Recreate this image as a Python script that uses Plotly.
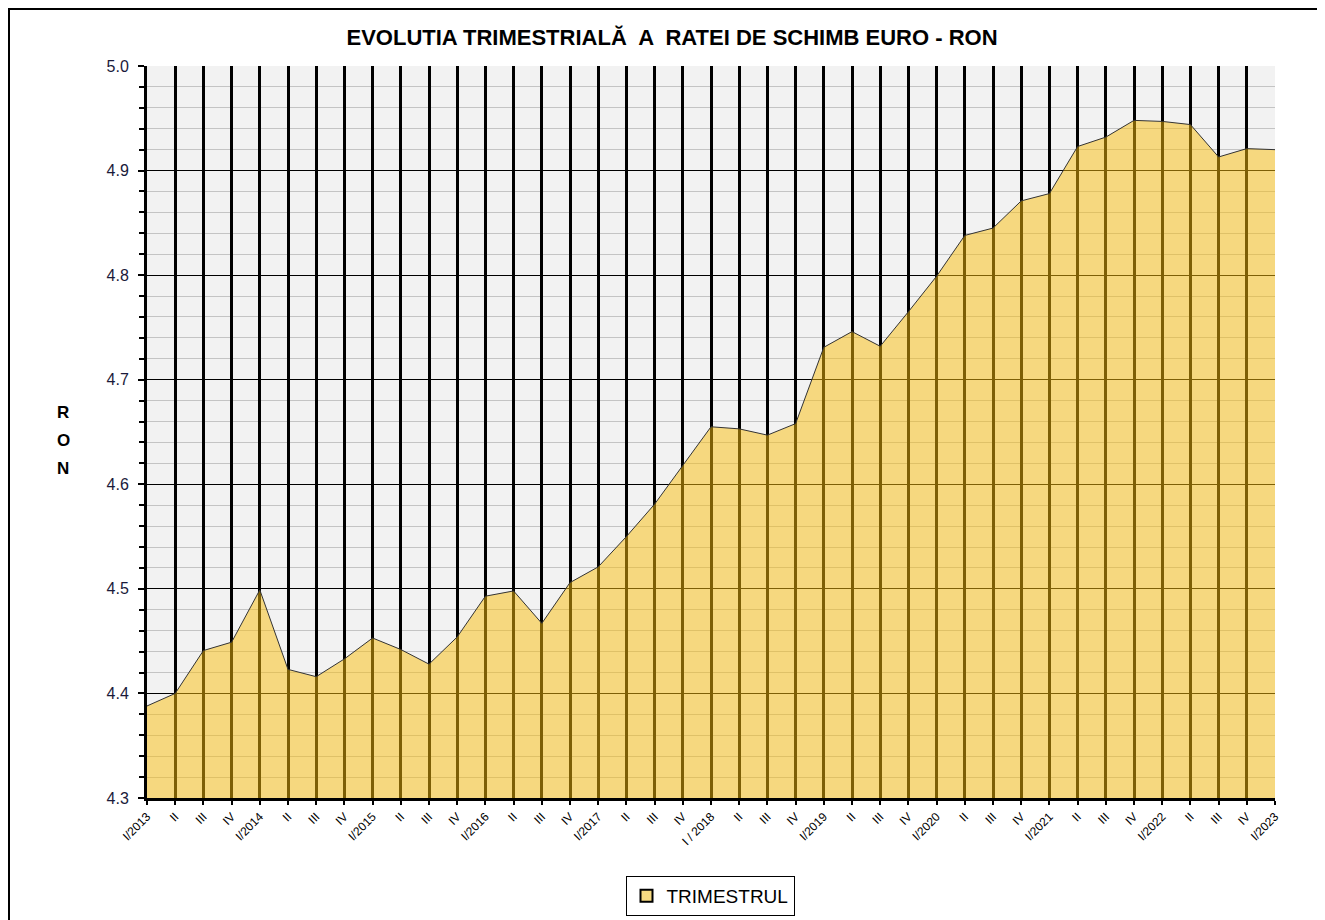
import plotly.graph_objects as go

categories = ["I/2013", "II", "III", "IV",
              "I/2014", "II", "III", "IV",
              "I/2015", "II", "III", "IV",
              "I/2016", "II", "III", "IV",
              "I/2017", "II", "III", "IV",
              "I / 2018", "II", "III", "IV",
              "I/2019", "II", "III", "IV",
              "I/2020", "II", "III", "IV",
              "I/2021", "II", "III", "IV",
              "I/2022", "II", "III", "IV",
              "I/2023"]

rates = [4.388, 4.400, 4.441, 4.449,
         4.499, 4.423, 4.416, 4.433,
         4.453, 4.442, 4.428, 4.454,
         4.493, 4.498, 4.467, 4.506,
         4.521, 4.550, 4.581, 4.618,
         4.655, 4.653, 4.647, 4.658,
         4.731, 4.746, 4.732, 4.765,
         4.799, 4.838, 4.845, 4.871,
         4.878, 4.923, 4.932, 4.948,
         4.947, 4.944, 4.913, 4.921,
         4.920]

y_ticks = [4.3, 4.4, 4.5, 4.6, 4.7, 4.8, 4.9, 5.0]
y_tick_labels = ["4.3", "4.4", "4.5", "4.6", "4.7", "4.8", "4.9", "5.0"]

idx = list(range(len(categories)))

# page body has an 8px margin; plot area target: x 147..1275, y 66..798
OFF = 8
L, T = 147 - OFF, 66 - OFF
PW, PH = 1128, 732
W, H = 1325, 920

def px(x):
    return (x - 147) / PW

def py(y):
    return (798 - y) / PH

fig = go.Figure()
fig.add_trace(go.Scatter(
    x=idx, y=rates, mode="lines", name="TRIMESTRUL",
    fill="tozeroy", fillcolor="rgba(250,190,12,0.5)",
    line=dict(color="#333333", width=1),
    showlegend=False,
))
# legend entry
fig.add_trace(go.Scatter(
    x=[None], y=[None], mode="markers", name="TRIMESTRUL",
    marker=dict(symbol="square", size=10, color="#F8DB82",
                line=dict(color="#000000", width=1)),
))

fig.update_layout(
    width=W, height=H,
    margin=dict(l=L, r=W - L - PW, t=T, b=H - T - PH),
    paper_bgcolor="white",
    plot_bgcolor="#F2F2F2",
    font=dict(family="Arial, Liberation Sans, sans-serif", color="#1a1a2e"),
    title=dict(text="<b>EVOLUTIA TRIMESTRIALĂ  A  RATEI DE SCHIMB EURO - RON</b>",
               x=(672 - OFF) / W, xref="container", xanchor="center",
               y=1 - (37 - OFF) / H, yref="container", yanchor="middle",
               font=dict(size=22, color="#000000")),
    showlegend=True,
    legend=dict(orientation="h", x=px(710), xanchor="center", xref="paper",
                y=py(876), yanchor="top",
                bordercolor="#000000", borderwidth=1, bgcolor="white",
                font=dict(size=19, color="#000000"),
                itemsizing="constant", itemwidth=30,
                tracegroupgap=0),
    xaxis=dict(
        range=[0, len(categories) - 1],
        tickvals=idx, ticktext=categories, tickangle=-45,
        tickfont=dict(size=12, color="#000000"),
        showgrid=True, gridcolor="#000000", gridwidth=3,
        zeroline=False,
        showline=True, linecolor="#000000", linewidth=3,
        ticks="outside", ticklen=4, tickwidth=2, tickcolor="#000000",
        fixedrange=True,
    ),
    yaxis=dict(
        range=[4.3, 5.0],
        tickvals=y_ticks, ticktext=y_tick_labels,
        tickfont=dict(size=16, color="#1a1a3a"),
        showgrid=True, gridcolor="#000000", gridwidth=1,
        zeroline=False,
        showline=True, linecolor="#000000", linewidth=3,
        ticks="outside", ticklen=6, tickwidth=2, tickcolor="#000000",
        ticklabelstandoff=6,
        minor=dict(dtick=0.02, showgrid=True, gridcolor="#C4C4C4", gridwidth=1,
                   ticks="outside", ticklen=5, tickwidth=2, tickcolor="#000000"),
        fixedrange=True,
    ),
)

for letter, yy in zip(["R", "O", "N"], [412, 440, 468]):
    fig.add_annotation(text="<b>" + letter + "</b>", xref="paper", yref="paper",
                       x=px(63), y=py(yy), xanchor="center", yanchor="middle",
                       showarrow=False, font=dict(size=17, color="#000000"))

# outer frame of chart area
fig.add_shape(type="rect", xref="paper", yref="paper",
              x0=px(9), x1=px(1345), y0=py(945), y1=py(9),
              line=dict(color="#000000", width=2), fillcolor="rgba(0,0,0,0)",
              layer="below")

fig.write_html("out.html")
